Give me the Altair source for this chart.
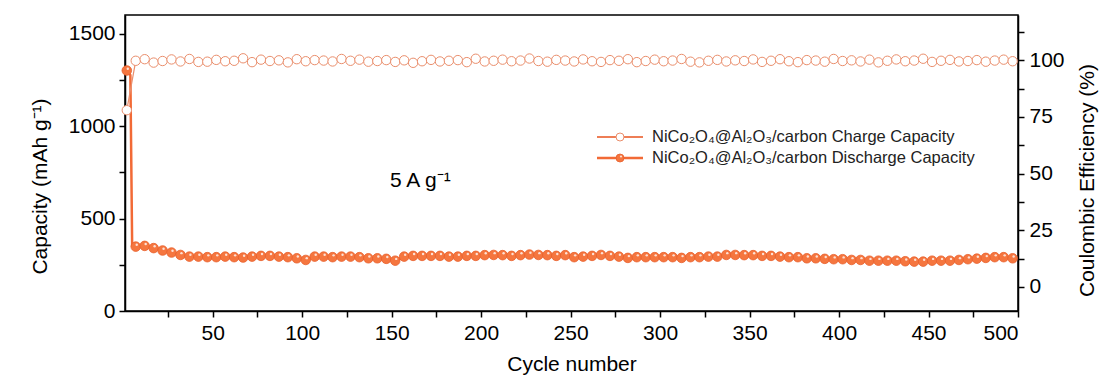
import altair as alt
import pandas as pd

# ---------------- data ----------------
# cycles that carry a marker (every 5th cycle, as drawn in the figure)
marker_cycles = list(range(2, 498, 5))

# discharge capacity (mAh g-1) at the marker cycles
discharge_capacity = [
    1300,
    348, 352, 340, 327, 316, 303, 294, 294, 291, 291,
    294, 291, 289, 294, 298, 298, 294, 291, 285, 276,
    294, 294, 291, 294, 294, 291, 285, 285, 282, 272,
    294, 298,
    298, 298, 298, 294, 294, 298, 298, 302, 303, 302,
    298, 302, 305, 303, 302, 298, 302, 291, 294, 298,
    303, 298, 294, 287, 291, 291, 291, 291, 291, 287,
    291, 291, 294, 294,
    303, 303, 302, 302, 298, 298, 294, 291, 291, 285,
    285, 282, 280, 280, 276, 276, 272, 272, 272, 272,
    269, 267, 267, 272, 272, 272, 276, 280, 283, 287,
    291, 291, 285,
]

# early cycles drawn by the line only (steep initial drop)
early_cycles = [1, 3, 4, 5]
early_discharge = [1310, 1290, 1275, 352]

# coulombic efficiency (%) at the marker cycles
coulombic_efficiency = [
    78.0,
    99.8, 100.5, 99.0, 99.7, 100.4, 99.5, 100.6, 99.3, 99.4, 100.2,
    99.6, 99.8, 100.9, 99.2, 100.3, 99.7, 100.0, 99.1, 100.5, 99.6,
    100.1, 99.9, 99.5, 100.6, 99.8, 100.3, 99.4, 99.7, 100.1, 99.3,
    100.0, 98.9, 99.6, 100.2, 99.5, 99.8, 100.1, 99.2, 100.7, 99.5,
    99.8, 100.3, 99.6, 99.9, 100.8, 99.7, 99.4, 100.2, 99.9, 99.5,
    100.4, 99.6, 99.3, 100.1, 99.8, 100.5, 99.2, 99.7, 100.3, 99.6,
    99.9, 100.6, 99.4, 99.1, 99.8, 100.2, 99.5, 100.0, 99.7, 100.4,
    99.3, 99.8, 100.5, 99.6, 99.2, 100.1, 99.9, 99.4, 100.6, 99.7,
    100.0, 99.5, 100.3, 99.1, 99.8, 100.4, 99.6, 99.9, 100.7, 99.3,
    99.8, 100.2, 99.5, 99.7, 100.1, 99.4, 99.9, 100.3, 99.6,
]

x_ticks = list(range(25, 501, 25))
left_ticks = [0, 250, 500, 750, 1000, 1250, 1500]
right_ticks = [0, 12.5, 25, 37.5, 50, 62.5, 75, 87.5, 100, 112.5]

legend_labels = [
    "NiCo\u2082O\u2084@Al\u2082O\u2083/carbon Charge Capacity",
    "NiCo\u2082O\u2084@Al\u2082O\u2083/carbon Discharge Capacity",
]
annot_text = ["5 A g\u207b\u00b9"]
annot_cycle = [166]
annot_cap = [670]

# ---------------- tables ----------------
line_df = pd.DataFrame({
    "cycle": early_cycles + marker_cycles,
    "cap": early_discharge + discharge_capacity,
}).sort_values("cycle")
pts_df = pd.DataFrame({"cycle": marker_cycles, "cap": discharge_capacity})
ce_df = pd.DataFrame({"cycle": marker_cycles, "ce": coulombic_efficiency})
annot_df = pd.DataFrame({"cycle": annot_cycle, "cap": annot_cap, "t": annot_text})

FONT = "Liberation Sans"
ORANGE = "#F26A36"
ORANGE_FILL = "#F5763F"
CE_COL = "#EA8E6C"

x_enc = alt.X(
    "cycle:Q",
    scale=alt.Scale(domain=[1, 500], nice=False, zero=False),
    axis=alt.Axis(
        values=x_ticks, format="d",
        labelExpr="datum.value % 50 == 0 ? datum.label : ''",
        title="Cycle number", titleY=59, titleBaseline="alphabetic",
        labelPadding=5,
    ),
)

y_left = alt.Y(
    "cap:Q",
    scale=alt.Scale(domain=[0, 1600], nice=False),
    axis=alt.Axis(
        orient="left", values=left_ticks, format="d",
        labelExpr="datum.value % 500 == 0 ? datum.label : ''",
        title="Capacity (mAh g\u207b\u00b9)", titleAngle=270,
        titleX=-85, titleY=171, titleAlign="center", titleBaseline="middle",
        labelPadding=4,
    ),
)

y_right = alt.Y(
    "ce:Q",
    scale=alt.Scale(domain=[-10.6, 120], nice=False, zero=False),
    axis=alt.Axis(
        orient="right", values=right_ticks,
        labelExpr="datum.value % 25 == 0 ? datum.label : ''",
        title="Coulombic Efficiency (%)", titleAngle=270,
        titleX=69, titleY=165, titleAlign="center", titleBaseline="middle",
        labelPadding=5,
    ),
)

dis_line = alt.Chart(line_df).mark_line(color=ORANGE, strokeWidth=2.5).encode(x=x_enc, y=y_left)
dis_pts = alt.Chart(pts_df).mark_point(
    shape="circle", filled=True, fill=ORANGE_FILL, stroke="#E9602C",
    strokeWidth=0.8, size=92, opacity=1,
).encode(x=x_enc, y=y_left)
dis_hl = alt.Chart(pts_df).mark_point(
    shape="circle", filled=True, color="#FDE0D4", size=6, opacity=1,
    xOffset=1.0, yOffset=-1.8,
).encode(x=x_enc, y=y_left)
annot = alt.Chart(annot_df).mark_text(
    font=FONT, fontSize=21, color="black", align="center", baseline="alphabetic",
).encode(x=x_enc, y=y_left, text="t:N")

left_group = alt.layer(dis_line, dis_pts, dis_hl, annot)

ce_line = alt.Chart(ce_df).mark_line(color=CE_COL, strokeWidth=1.2).encode(x=x_enc, y=y_right)
ce_pts = alt.Chart(ce_df).mark_point(
    shape="circle", filled=True, fill="white", stroke=CE_COL,
    strokeWidth=1.0, size=88, opacity=1,
).encode(x=x_enc, y=y_right)
right_group = alt.layer(ce_line, ce_pts)

# ---------------- legend (decoration) ----------------
leg_df = pd.DataFrame({"label": legend_labels})
LX0, LX1, LM, LT = 472, 518, 495, 527
rows_y = [122, 143]

legend_layers = []
for i, yy in enumerate(rows_y):
    one = leg_df.iloc[[i]]
    col = ORANGE if i == 1 else "#EE7E56"
    legend_layers.append(
        alt.Chart(one).mark_rule(color=col, strokeWidth=1.8 if i == 0 else 2.5).encode(
            x=alt.value(LX0), x2=alt.value(LX1), y=alt.value(yy))
    )
    if i == 0:
        legend_layers.append(
            alt.Chart(one).mark_point(shape="circle", filled=True, fill="white",
                                      stroke=CE_COL, strokeWidth=1.0, size=64, opacity=1).encode(
                x=alt.value(LM), y=alt.value(yy))
        )
    else:
        legend_layers.append(
            alt.Chart(one).mark_point(shape="circle", filled=True, fill=ORANGE_FILL,
                                      stroke="#E9602C", strokeWidth=0.8, size=64, opacity=1).encode(
                x=alt.value(LM), y=alt.value(yy))
        )
        legend_layers.append(
            alt.Chart(one).mark_point(shape="circle", filled=True, color="#FDE0D4",
                                      size=5, opacity=1, xOffset=1.0, yOffset=-1.5).encode(
                x=alt.value(LM), y=alt.value(yy))
        )
    legend_layers.append(
        alt.Chart(one).mark_text(font=FONT, fontSize=16.5, color="#222222",
                                 align="left", baseline="middle").encode(
            x=alt.value(LT), y=alt.value(yy), text="label:N")
    )

chart = alt.layer(left_group, right_group, *legend_layers).resolve_scale(
    y="independent"
).properties(
    width=893, height=296,
    autosize=alt.AutoSizeParams(type="none"),
    padding={"left": 125, "top": 15, "right": 82, "bottom": 67},
    background="white",
).configure_view(
    stroke="black", strokeWidth=1.5,
).configure_axis(
    grid=False, domainColor="black", domainWidth=1.5,
    tickColor="black", tickWidth=1.5, tickSize=6,
    labelFont=FONT, labelFontSize=21, labelColor="black",
    titleFont=FONT, titleFontSize=21, titleColor="black", titleFontWeight="normal",
)

chart.save("out.html", embed_options={"renderer": "svg", "actions": False})
